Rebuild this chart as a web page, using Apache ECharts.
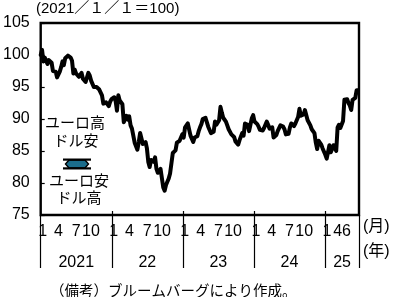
<!DOCTYPE html>
<html>
<head>
<meta charset="utf-8">
<script src="https://cdn.jsdelivr.net/npm/echarts@6.0.0/dist/echarts.min.js"></script>
<style>
html,body{margin:0;padding:0;background:#fff;}
#chart{width:394px;height:297px;}
</style>
</head>
<body>
<div id="chart"></div>
<script>
// Weekly index values (2021/1/1 = 100), first point 2021-01-01, 7 days apart
const v2021 = [100.0,100.8,99.0,99.6,99.4,98.6,99.2,99.3,98.8,97.5,97.8,97.4,96.5,96.3,97.4,98.1,99.0,98.4,99.5,99.4,99.9,100.2,99.6,99.1,97.1,97.7,97.1,97.2,96.6,96.4,97.2,96.3,96.5,95.8,96.5,97.2,96.8,96.0,95.9,95.0,94.7,95.0,95.3,94.6,94.6,93.7,92.4,92.7,92.6,92.6,92.0,92.7,93.1];
const v2022 = [93.0,93.4,92.8,91.3,93.7,92.9,92.7,92.3,89.5,89.3,90.5,89.9,90.4,89.0,88.5,88.3,86.3,86.4,85.2,86.4,87.8,87.8,86.1,85.9,86.4,85.4,83.3,82.5,83.6,83.7,83.3,84.0,82.2,81.6,81.5,82.2,82.0,79.3,78.8,79.7,79.6,80.7,81.5,81.5,84.7,84.5,85.1,86.3,86.2,86.6,86.9,87.6];
const v2023 = [87.1,88.7,88.9,89.3,89.6,87.4,87.5,86.4,87.1,87.1,87.3,88.1,88.7,89.2,90.0,90.0,90.2,90.2,88.8,88.5,87.8,87.7,88.0,89.6,89.1,89.3,89.8,91.9,91.0,90.2,90.0,89.6,89.0,88.4,88.2,87.6,87.3,87.2,86.5,86.7,86.0,86.7,86.4,87.8,87.4,89.3,89.6,89.1,88.1,89.1,90.1,90.6];
const v2024 = [89.6,89.6,89.2,88.8,88.3,88.2,88.2,88.6,88.7,89.6,89.1,88.5,88.3,88.7,87.1,87.3,87.5,88.1,88.2,89.0,88.8,88.8,88.4,87.6,87.5,87.7,88.7,89.3,89.1,88.9,89.3,89.4,90.3,91.6,90.5,90.7,90.7,91.4,91.4,89.8,89.6,89.0,88.4,88.7,87.8,86.3,85.3,86.6,86.5,86.0,85.4,85.4];
const v2025 = [84.4,83.8,84.1,85.9,84.8,84.6,85.9,85.6,85.0,88.7,89.1,88.6,88.6,89.7,93.0,93.1,93.1,92.5,92.1,91.4,93.0,92.9,93.3,94.5,94.5];

// Tick labels (x in months since 2021-01)
const monthPos  = [0,3,6,9, 12,15,18,21, 24,27,30,33, 36,39,42,45, 48,51,53];
const monthText = ['1','4','7','10','1','4','7','10','1','4','7','10','1','4','7','10','1','4','6'];
const yearBounds = [0,12,24,36,48,53.75];
const yearPos   = [6,18,30,42,50.9];
const yearText  = ['2021','22','23','24','25'];
const yTicks = [75,80,85,90,95,100,105];

const title = '(2021／１／１＝100)';
const note = '（備考）ブルームバーグにより作成。';

const values = [].concat(v2021, v2022, v2023, v2024, v2025);
const MONTH_DAYS = 1461 / 48;
const data = values.map((v, i) => [i * 7 / MONTH_DAYS, v]);

const NUM = "'Liberation Sans Narrow','Arial Narrow','Liberation Sans','Noto Sans CJK JP',sans-serif";
const JP = "'Noto Sans CJK JP',sans-serif";

function monthFmt(v) {
  let idx = -1;
  for (let i = 0; i < monthPos.length; i++) if (Math.abs(monthPos[i] - v) < 1e-6) idx = i;
  if (idx < 0) return '';
  const t = monthText[idx];
  if (idx === monthPos.length - 1) return '{l8|' + t + '}';
  if (idx === monthPos.length - 2) return '{l5|' + t + '}';
  if (t === '1') return '{r2|' + t + '}';
  if (t === '10') return '{l3|' + t + '}';
  return '{n|' + t + '}';
}
function yearFmt(v) {
  for (let i = 0; i < yearPos.length; i++) if (Math.abs(yearPos[i] - v) < 1e-6) return yearText[i];
  return '';
}

const chart = echarts.init(document.getElementById('chart'), null, {renderer: 'canvas'});
const lblBase = {fontFamily: NUM, fontSize: 16, color: '#000'};
chart.setOption({
  animation: false,
  backgroundColor: '#fff',
  grid: {left: 36, right: 35, top: 23, bottom: 82, show: true, borderColor: '#000', borderWidth: 2.4, backgroundColor: 'transparent'},
  xAxis: [
    {
      type: 'value', min: 0, max: 53.75, position: 'bottom',
      axisLine: {show: false}, splitLine: {show: false},
      axisTick: {show: true, inside: true, length: 4, customValues: [12,24,36,48], lineStyle: {color: '#000', width: 1.2}},
      axisLabel: {
        show: true, margin: 9, customValues: monthPos, formatter: monthFmt,
        rich: {
          n: lblBase,
          r2: Object.assign({padding: [0,0,0,4]}, lblBase),
          l3: Object.assign({padding: [0,6,0,0]}, lblBase),
          l5: Object.assign({padding: [0,10,0,0]}, lblBase),
          l8: Object.assign({padding: [0,16,0,0]}, lblBase)
        }
      }
    },
    {
      type: 'value', min: 0, max: 53.75, position: 'bottom',
      axisLine: {show: false}, splitLine: {show: false},
      axisTick: {show: true, inside: false, length: 53, customValues: yearBounds, lineStyle: {color: '#000', width: 1.2}},
      axisLabel: {show: true, margin: 40, customValues: yearPos, formatter: yearFmt, fontFamily: NUM, fontSize: 16, color: '#000'}
    }
  ],
  yAxis: {
    type: 'value', min: 75, max: 105, interval: 5,
    axisLine: {show: false}, splitLine: {show: false},
    axisTick: {show: true, inside: true, length: 4, lineStyle: {color: '#000', width: 1.2}},
    axisLabel: {margin: 11, fontFamily: NUM, fontSize: 16, color: '#000', customValues: yTicks}
  },
  series: [{
    type: 'line', xAxisIndex: 0, data: data, symbol: 'none',
    lineStyle: {color: '#000', width: 4, join: 'round', cap: 'round'}
  }],
  graphic: [
    {type: 'text', left: 36, top: 1, style: {text: title, font: '15px ' + NUM, fill: '#000'}},
    {type: 'text', x: 363, y: 227, style: {text: '(月)', font: '16px ' + NUM, fill: '#000', verticalAlign: 'middle'}},
    {type: 'text', x: 363, y: 252, style: {text: '(年)', font: '16px ' + NUM, fill: '#000', verticalAlign: 'middle'}},
    {type: 'text', x: 50, y: 290, style: {text: note, font: '14.5px ' + JP, fill: '#000', verticalAlign: 'middle'}},
    {type: 'text', x: 75, y: 122, style: {text: 'ユーロ高', font: '15px ' + JP, fill: '#000', align: 'center', verticalAlign: 'middle'}},
    {type: 'text', x: 76, y: 140, style: {text: 'ドル安', font: '15px ' + JP, fill: '#000', align: 'center', verticalAlign: 'middle'}},
    {type: 'text', x: 79, y: 180, style: {text: 'ユーロ安', font: '15px ' + JP, fill: '#000', align: 'center', verticalAlign: 'middle'}},
    {type: 'text', x: 79, y: 197, style: {text: 'ドル高', font: '15px ' + JP, fill: '#000', align: 'center', verticalAlign: 'middle'}},
    {type: 'polygon', shape: {points: [[69,160],[85,160],[88.5,164],[85,168],[69,168],[65.5,164]]}, style: {fill: '#1b6d8c', stroke: '#000', lineWidth: 1.4}},
    {type: 'rect', shape: {x: 63, y: 158.5, width: 28, height: 2.2}, style: {fill: '#000'}},
    {type: 'rect', shape: {x: 63, y: 167.3, width: 28, height: 2.2}, style: {fill: '#000'}}
  ]
});
</script>
</body>
</html>
